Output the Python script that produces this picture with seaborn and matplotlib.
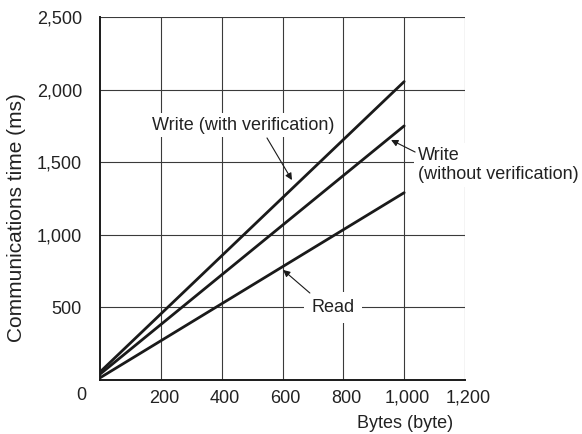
import matplotlib
matplotlib.use("Agg")
import matplotlib.pyplot as plt
import matplotlib.transforms as mtransforms
import pandas as pd
import seaborn as sns

# values (bytes -> ms)
bytes_x = [0, 1000]
write_verify = [55, 2055]
write_no_verify = [40, 1750]
read_ms = [15, 1290]

x_ticks = [200, 400, 600, 800, 1000, 1200]
x_labels = ["200", "400", "600", "800", "1,000", "1,200"]
y_ticks = [500, 1000, 1500, 2000, 2500]
y_labels = ["500", "1,000", "1,500", "2,000", "2,500"]

df = pd.DataFrame({
    "bytes": bytes_x * 3,
    "ms": write_verify + write_no_verify + read_ms,
    "series": ["Write (with verification)"] * 2 + ["Write (without verification)"] * 2 + ["Read"] * 2,
})

sns.set_theme(style="white")
plt.rcParams["font.family"] = ["Liberation Sans", "DejaVu Sans"]

fs = 13
txt = "#222222"

fig = plt.figure(figsize=(5.82, 4.34), dpi=100)
ax = fig.add_axes([100 / 582, 1 - 380 / 434, 365 / 582, 363 / 434])

sns.lineplot(data=df, x="bytes", y="ms", hue="series",
             palette=["#1a1a1a"] * 3, linewidth=2.0, legend=False, ax=ax)

ax.set_xlim(0, 1200)
ax.set_ylim(0, 2500)
ax.set_xticks(x_ticks)
ax.set_xticklabels(x_labels, fontsize=fs, color=txt)
ax.set_yticks(y_ticks)
ax.set_yticklabels(y_labels, fontsize=fs, color=txt)
ax.tick_params(axis="x", length=0, pad=7)
ax.tick_params(axis="y", length=0, pad=13)
ax.set_xlabel("")
ax.set_ylabel("")

# x labels in the original sit a few pixels right of their gridlines
shift = mtransforms.ScaledTranslation(3 / 100, 0, fig.dpi_scale_trans)
for lab in ax.get_xticklabels():
    lab.set_transform(lab.get_transform() + shift)

ax.grid(True, color="#3a3a3a", linewidth=0.8)
ax.set_axisbelow(True)
for side in ["top", "right"]:
    ax.spines[side].set_visible(False)
for side in ["left", "bottom"]:
    ax.spines[side].set_color("#1a1a1a")
    ax.spines[side].set_linewidth(1.4)

ax.text(-0.05, -0.042, "0", transform=ax.transAxes, ha="center", va="center",
        fontsize=fs, color=txt)
fig.text(17 / 582, 1 - 218 / 434, "Communications time (ms)", rotation=90,
         ha="center", va="center", fontsize=15, color=txt)
fig.text(405 / 582, 1 - 423 / 434, "Bytes (byte)", ha="center", va="center",
         fontsize=fs, color=txt)

arrow = dict(arrowstyle="-|>", color="#1a1a1a", linewidth=0.8,
             mutation_scale=10, shrinkA=0, shrinkB=0)

# callout texts (white box breaks the grid like in the original)
ax.text(470, 1756, "Write (with verification)", ha="center", va="center",
        fontsize=fs, color=txt, zorder=5,
        bbox=dict(boxstyle="square,pad=0.2", facecolor="white", edgecolor="none"))
ax.text(1045, 1481, "Write\n(without verification)", ha="left", va="center",
        fontsize=fs, color=txt, linespacing=1.15, zorder=5,
        bbox=dict(boxstyle="square,pad=0.2", facecolor="white", edgecolor="none"))
ax.text(766, 498, "Read", ha="center", va="center", fontsize=fs, color=txt, zorder=5,
        bbox=dict(boxstyle="square,pad=0.4", facecolor="white", edgecolor="none"))

ax.annotate("", xy=(631, 1377), xytext=(549, 1667), arrowprops=arrow, zorder=6)
ax.annotate("", xy=(957, 1653), xytext=(1036, 1570), arrowprops=arrow,
            annotation_clip=False, zorder=6)
ax.annotate("", xy=(602, 758), xytext=(690, 599), arrowprops=arrow, zorder=6)

fig.savefig("out.png", dpi=100)
